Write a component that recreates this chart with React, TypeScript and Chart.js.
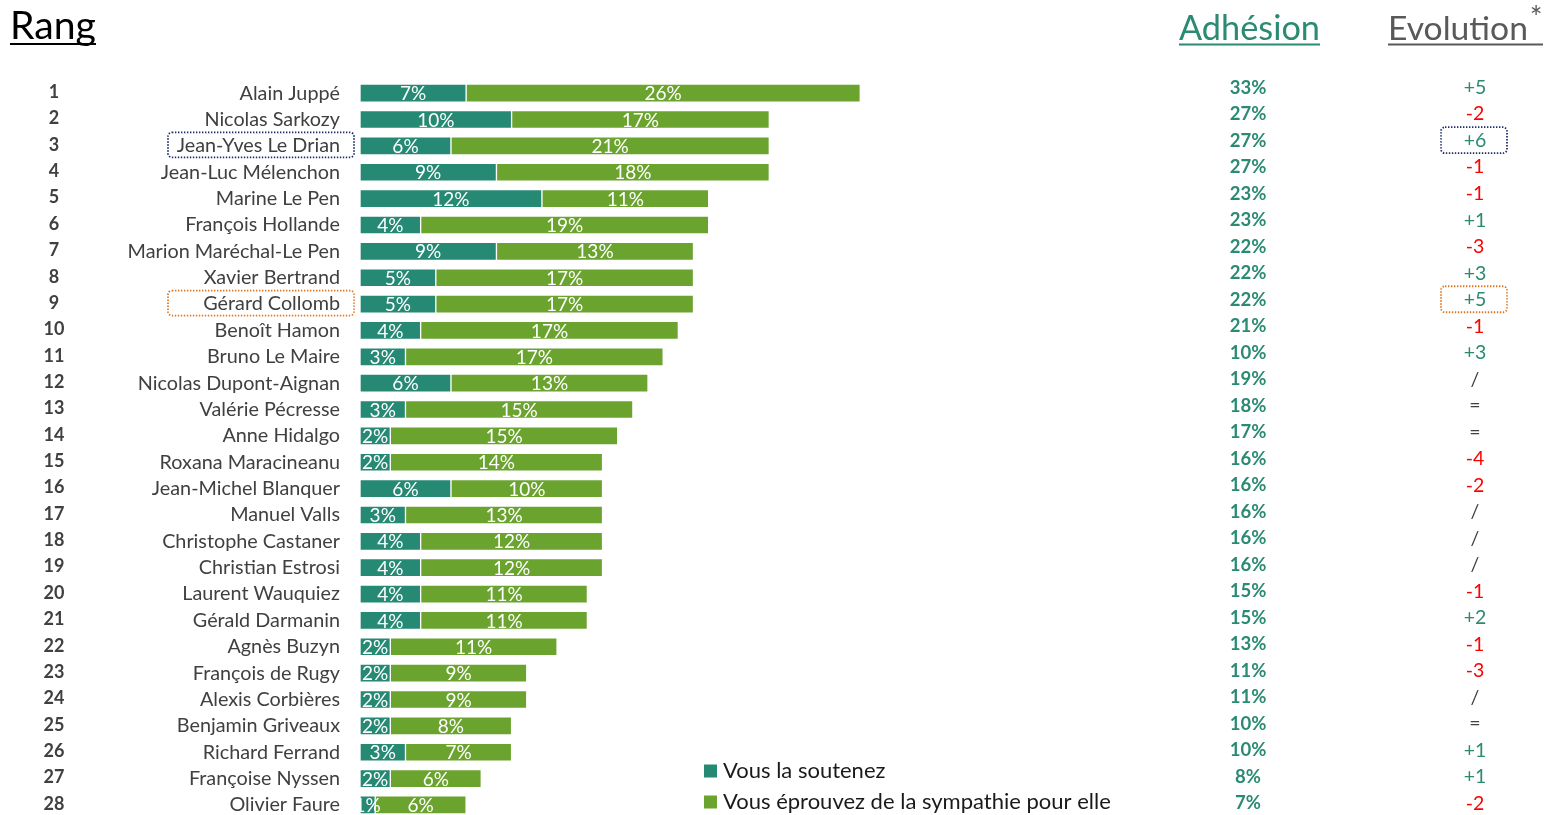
import React, { useEffect, useRef } from "react";
import { Chart, registerables } from "chart.js";

Chart.register(...registerables);

const FONT = "Lato, 'Open Sans', sans-serif";
const TEAL = "#268974";
const GREEN = "#6BA32F";
const TEXT_GRAY = "#404040";

const ranks = [1, 2, 3, 4, 5, 6, 7, 8, 9, 10, 11, 12, 13, 14, 15, 16, 17, 18, 19, 20, 21, 22, 23, 24, 25, 26, 27, 28];
const names = [
  "Alain Juppé", "Nicolas Sarkozy", "Jean-Yves Le Drian", "Jean-Luc Mélenchon", "Marine Le Pen",
  "François Hollande", "Marion Maréchal-Le Pen", "Xavier Bertrand", "Gérard Collomb", "Benoît Hamon",
  "Bruno Le Maire", "Nicolas Dupont-Aignan", "Valérie Pécresse", "Anne Hidalgo", "Roxana Maracineanu",
  "Jean-Michel Blanquer", "Manuel Valls", "Christophe Castaner", "Christian Estrosi", "Laurent Wauquiez",
  "Gérald Darmanin", "Agnès Buzyn", "François de Rugy", "Alexis Corbières", "Benjamin Griveaux",
  "Richard Ferrand", "Françoise Nyssen", "Olivier Faure",
];
const soutenez = [7, 10, 6, 9, 12, 4, 9, 5, 5, 4, 3, 6, 3, 2, 2, 6, 3, 4, 4, 4, 4, 2, 2, 2, 2, 3, 2, 1];
const sympathie = [26, 17, 21, 18, 11, 19, 13, 17, 17, 17, 17, 13, 15, 15, 14, 10, 13, 12, 12, 11, 11, 11, 9, 9, 8, 7, 6, 6];
const adhesion = [33, 27, 27, 27, 23, 23, 22, 22, 22, 21, 10, 19, 18, 17, 16, 16, 16, 16, 16, 15, 15, 13, 11, 11, 10, 10, 8, 7];
const evolution = ["+5", "-2", "+6", "-1", "-1", "+1", "-3", "+3", "+5", "-1", "+3", "/", "=", "=", "-4", "-2", "/", "/", "/", "-1", "+2", "-1", "-3", "/", "=", "+1", "+1", "-2"];
const seriesLabels = ["Vous la soutenez", "Vous éprouvez de la sympathie pour elle"];
const headerRang = "Rang";
const headerAdhesion = "Adhésion";
const headerEvolution = "Evolution";
const highlightRows = [2, 8];
const highlightColors = ["#1F2A6B", "#E2761F"];

function fitFont(ctx: CanvasRenderingContext2D, text: string, target: number, weight = "") {
  ctx.font = `${weight} 40px ${FONT}`;
  const w = ctx.measureText(text).width;
  const size = (40 * target) / w;
  ctx.font = `${weight} ${size}px ${FONT}`;
  return size;
}

function dotted(ctx: CanvasRenderingContext2D, x: number, y: number, w: number, h: number, color: string) {
  ctx.save();
  ctx.strokeStyle = color;
  ctx.lineWidth = 1.8;
  ctx.setLineDash([1.4, 1.6]);
  ctx.beginPath();
  (ctx as any).roundRect(x, y, w, h, 4);
  ctx.stroke();
  ctx.restore();
}

const overlay = {
  id: "overlay",
  afterDatasetsDraw(chart: any) {
    const ctx: CanvasRenderingContext2D = chart.ctx;
    const ca = chart.chartArea;
    ctx.save();
    ctx.beginPath();
    ctx.rect(ca.left, 0, ca.right - ca.left, chart.height);
    ctx.clip();
    ctx.font = `19px ${FONT}`;
    ctx.fillStyle = "#ffffff";
    ctx.textAlign = "center";
    ctx.textBaseline = "middle";
    chart.data.datasets.forEach((ds: any, di: number) => {
      const meta = chart.getDatasetMeta(di);
      meta.data.forEach((el: any, i: number) => {
        const p = el.getProps(["x", "base", "y"], true);
        ctx.fillText(ds.data[i] + "%", (p.x + p.base) / 2, p.y + 1);
      });
    });
    ctx.restore();
  },
  afterDraw(chart: any) {
    const ctx: CanvasRenderingContext2D = chart.ctx;
    const ys = chart.scales.y;
    ctx.save();

    // Rank numbers
    ctx.font = `bold 18px ${FONT}`;
    ctx.fillStyle = TEXT_GRAY;
    ctx.textAlign = "center";
    ctx.textBaseline = "middle";
    ranks.forEach((r, i) => ctx.fillText(String(r), 54, ys.getPixelForValue(i) - 1));

    // Adhésion column
    ctx.font = `bold 18.5px ${FONT}`;
    ctx.fillStyle = "#2A8A72";
    adhesion.forEach((v, i) => ctx.fillText(v + "%", 1248, ys.getPixelForValue(i) - 5.5 + i * 0.15));

    // Evolution column
    ctx.font = `19.5px ${FONT}`;
    evolution.forEach((v, i) => {
      ctx.fillStyle = v.startsWith("+") ? "#2A8A72" : v.startsWith("-") ? "#FF0000" : TEXT_GRAY;
      ctx.fillText(v, 1475, ys.getPixelForValue(i) - 5.5 + i * 0.15);
    });

    // Highlight boxes
    highlightRows.forEach((row, k) => {
      const yy = ys.getPixelForValue(row);
      dotted(ctx, 168, yy - 13.5, 186, 25, highlightColors[k]);
      const ye = yy - 5.5 + row * 0.15;
      dotted(ctx, 1441, ye - 13.5, 66, 26, highlightColors[k]);
    });

    // Headers
    ctx.textAlign = "left";
    ctx.textBaseline = "alphabetic";
    ctx.fillStyle = "#000000";
    fitFont(ctx, headerRang, 86);
    ctx.fillText(headerRang, 10, 39);
    ctx.fillRect(10, 43, 86, 2);

    ctx.fillStyle = "#2A8A72";
    fitFont(ctx, headerAdhesion, 141);
    ctx.fillText(headerAdhesion, 1179, 40);
    ctx.fillRect(1179, 43.5, 141, 2);

    ctx.fillStyle = "#595959";
    fitFont(ctx, headerEvolution, 140);
    ctx.fillText(headerEvolution, 1388, 40);
    ctx.fillRect(1388, 43.5, 155, 2);
    ctx.font = `30px ${FONT}`;
    ctx.textAlign = "center";
    ctx.fillText("*", 1536, 28);

    // Legend
    ctx.textAlign = "left";
    ctx.textBaseline = "middle";
    chart.data.datasets.forEach((ds: any, di: number) => {
      const ly = 771 + di * 31;
      ctx.fillStyle = ds.backgroundColor;
      ctx.fillRect(704, ly - 6.5, 13, 13);
      ctx.fillStyle = "#1A1A1A";
      ctx.font = `22px ${FONT}`;
      ctx.fillText(ds.label, 723, ly);
    });

    ctx.restore();
  },
};

export default function App() {
  const ref = useRef<HTMLCanvasElement>(null);
  useEffect(() => {
    if (!ref.current) return;
    const chart = new Chart(ref.current, {
      type: "bar",
      data: {
        labels: names,
        datasets: [
          {
            label: seriesLabels[0],
            data: soutenez,
            backgroundColor: TEAL,
            borderColor: "rgba(255,255,255,0.5)",
            borderWidth: 1,
            borderSkipped: false,
            barThickness: 18,
          },
          {
            label: seriesLabels[1],
            data: sympathie,
            backgroundColor: GREEN,
            borderColor: "rgba(255,255,255,0.5)",
            borderWidth: 1,
            borderSkipped: false,
            barThickness: 18,
          },
        ],
      },
      options: {
        indexAxis: "y",
        responsive: true,
        maintainAspectRatio: false,
        animation: false,
        layout: { padding: { left: 0, top: 80, right: 436, bottom: 30 } },
        plugins: { legend: { display: false }, tooltip: { enabled: false } },
        scales: {
          x: { stacked: true, min: 0, max: 50, display: false },
          y: {
            stacked: true,
            grid: { display: false, drawTicks: false },
            border: { display: false },
            ticks: { color: TEXT_GRAY, font: { family: FONT, size: 19.8 }, padding: 20, autoSkip: false },
            afterFit: (axis: any) => {
              axis.width = 360;
            },
          },
        },
      },
      plugins: [overlay],
    } as any);
    return () => chart.destroy();
  }, []);
  return (
    <div style={{ position: "fixed", left: 0, top: 0, width: 1554, height: 850, background: "#fff" }}>
      <canvas ref={ref} />
    </div>
  );
}
